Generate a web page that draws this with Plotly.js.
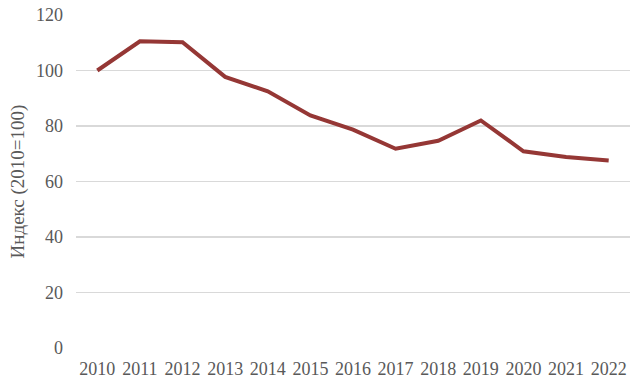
<!DOCTYPE html>
<html><head><meta charset="utf-8">
<script src="https://cdn.plot.ly/plotly-3.0.1.min.js"></script>
<style>html,body{margin:0;padding:0;background:#fff}</style>
</head><body><div id="chart" style="width:640px;height:382px"></div>
<script>
const years = ['2010','2011','2012','2013','2014','2015','2016','2017','2018','2019','2020','2021','2022'];
const index = [100, 110.5, 110.2, 97.7, 92.5, 83.8, 78.7, 71.8, 74.7, 82.0, 70.9, 68.8, 67.6];
const yTicks = [0, 20, 40, 60, 80, 100, 120];

const fontFam = '"Liberation Serif", "DejaVu Serif", serif';
Plotly.newPlot('chart', [{
  x: years, y: index, type: 'scatter', mode: 'lines',
  line: {color: '#953735', width: 4}
}], {
  width: 640, height: 382,
  margin: {l: 76, r: 10, t: 15, b: 34},
  paper_bgcolor: '#fff', plot_bgcolor: '#fff',
  showlegend: false,
  font: {family: fontFam, size: 17, color: '#595959'},
  xaxis: {type: 'category', range: [-0.5, 12.5], showgrid: false, zeroline: false, showline: false,
          ticks: '', ticklabelstandoff: 8, tickfont: {family: fontFam, size: 18, color: '#595959'}},
  yaxis: {range: [0, 120], tickvals: yTicks, showgrid: true, gridcolor: '#d9d9d9', gridwidth: 1.5,
          zeroline: false, showline: false, ticks: '',
          ticklabelstandoff: 12,
          tickfont: {family: fontFam, size: 18, color: '#595959'},
          title: {text: 'Индекс (2010=100)', standoff: 6, font: {family: fontFam, size: 19, color: '#595959'}}}
}, {staticPlot: true});
</script></body></html>
